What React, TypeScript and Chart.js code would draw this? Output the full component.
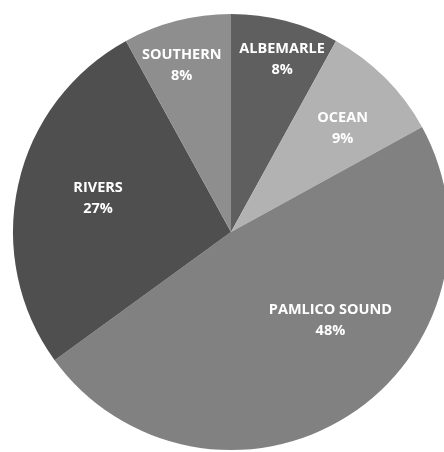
import React, { useEffect, useRef } from "react";
import { Chart, registerables } from "chart.js";

Chart.register(...registerables);

const categories = ["ALBEMARLE", "OCEAN", "PAMLICO SOUND", "RIVERS", "SOUTHERN"];
const values = [8, 9, 48, 27, 8];
const colors = ["#5f5f5f", "#b2b2b2", "#818181", "#4f4f4f", "#8e8e8e"];

// label placement: radial fraction of radius, angular nudge (degrees) from slice middle
const labelPlacement = [
  { rf: 0.83, da: 2 },
  { rf: 0.7, da: 2 },
  { rf: 0.61, da: -16 },
  { rf: 0.63, da: 2 },
  { rf: 0.8, da: -2 },
];

const sliceLabelPlugin = {
  id: "sliceLabels",
  afterDatasetsDraw(chart: any) {
    const meta = chart.getDatasetMeta(0);
    const ctx = chart.ctx;
    const data = chart.data.datasets[0].data as number[];
    const total = data.reduce((a, b) => a + b, 0);
    ctx.save();
    ctx.fillStyle = "#ffffff";
    ctx.font = "bold 14.5px 'Open Sans'";
    ctx.textAlign = "center";
    ctx.textBaseline = "middle";
    meta.data.forEach((arc: any, i: number) => {
      const { x, y, startAngle, endAngle, outerRadius } = arc.getProps(
        ["x", "y", "startAngle", "endAngle", "outerRadius"],
        true
      );
      const p = labelPlacement[i];
      const a = (startAngle + endAngle) / 2 + (p.da * Math.PI) / 180;
      const r = outerRadius * p.rf;
      const cx = x + Math.cos(a) * r;
      const cy = y + Math.sin(a) * r;
      const pct = Math.round((data[i] / total) * 100) + "%";
      ctx.fillText(String(chart.data.labels[i]), cx, cy - 10);
      ctx.fillText(pct, cx, cy + 11);
    });
    ctx.restore();
  },
};

export default function App() {
  const ref = useRef<HTMLCanvasElement>(null);
  useEffect(() => {
    if (!ref.current) return;
    const chart = new Chart(ref.current, {
      type: "pie",
      data: {
        labels: categories,
        datasets: [
          {
            data: values,
            backgroundColor: colors,
            borderWidth: 0,
            clip: false as any,
          },
        ],
      },
      options: {
        animation: false,
        responsive: true,
        maintainAspectRatio: false,
        radius: 218,
        layout: { padding: { left: 18, right: 0, top: 12, bottom: 0 } },
        plugins: {
          legend: { display: false },
          tooltip: { enabled: false },
        },
      } as any,
      plugins: [sliceLabelPlugin],
    });
    return () => chart.destroy();
  }, []);
  return (
    <div
      style={{
        position: "fixed",
        left: 0,
        top: 0,
        width: 444,
        height: 452,
        overflow: "hidden",
        background: "#ffffff",
      }}
    >
      <canvas ref={ref} />
    </div>
  );
}
